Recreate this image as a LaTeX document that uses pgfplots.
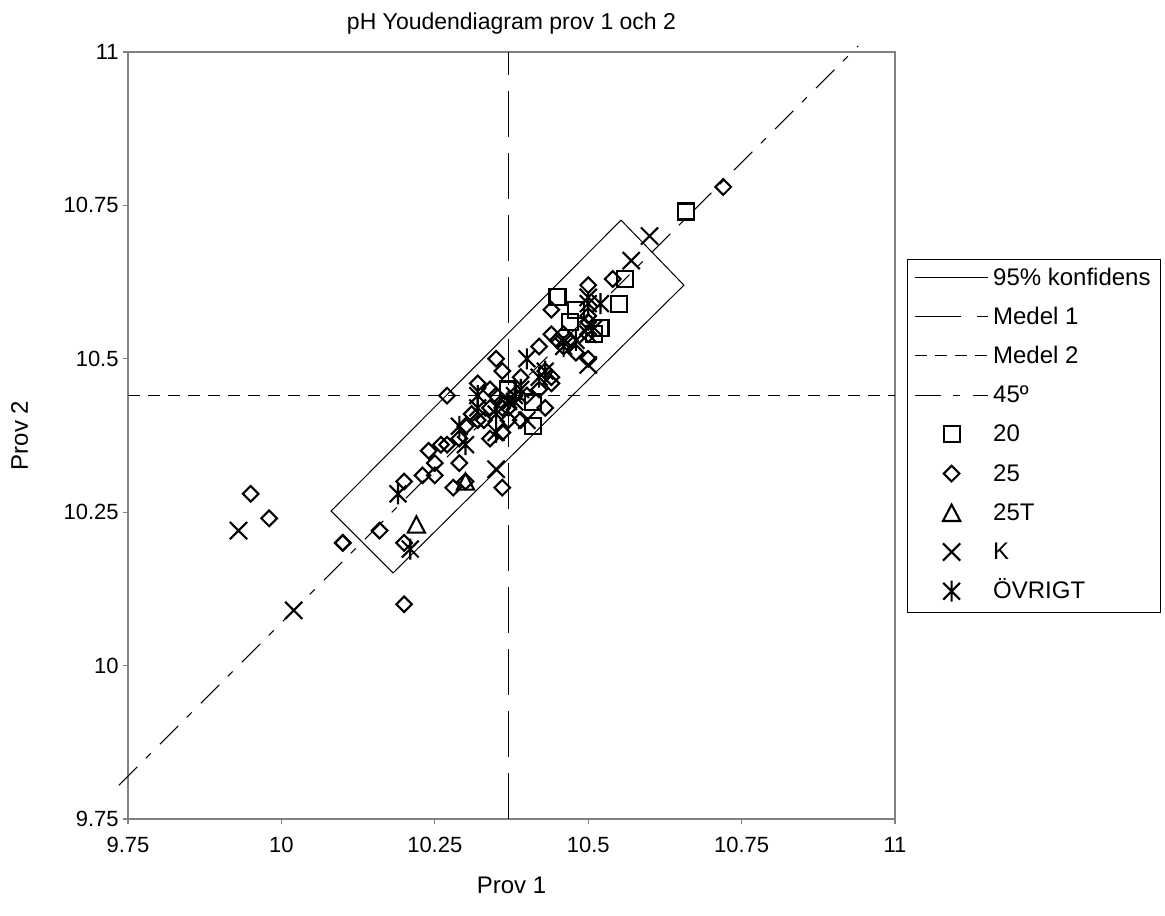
\documentclass[border=0pt]{standalone}
\usepackage{pgfplots}
\pgfplotsset{compat=1.18}
\usepackage{fontspec}
\setmainfont{Liberation Sans}

\pgfdeclareplotmark{esq}{%
  \pgfpathrectangle{\pgfqpoint{-\pgfplotmarksize}{-\pgfplotmarksize}}{\pgfqpoint{2\pgfplotmarksize}{2\pgfplotmarksize}}%
  \pgfusepathqstroke}
\pgfdeclareplotmark{edia}{%
  \pgfpathmoveto{\pgfqpoint{0pt}{\pgfplotmarksize}}%
  \pgfpathlineto{\pgfqpoint{\pgfplotmarksize}{0pt}}%
  \pgfpathlineto{\pgfqpoint{0pt}{-\pgfplotmarksize}}%
  \pgfpathlineto{\pgfqpoint{-\pgfplotmarksize}{0pt}}%
  \pgfpathclose\pgfusepathqstroke}
\pgfdeclareplotmark{etri}{%
  \pgfpathmoveto{\pgfqpoint{0pt}{0.95\pgfplotmarksize}}%
  \pgfpathlineto{\pgfqpoint{\pgfplotmarksize}{-0.95\pgfplotmarksize}}%
  \pgfpathlineto{\pgfqpoint{-\pgfplotmarksize}{-0.95\pgfplotmarksize}}%
  \pgfpathclose\pgfusepathqstroke}
\pgfdeclareplotmark{ex}{%
  \pgfpathmoveto{\pgfqpoint{-\pgfplotmarksize}{-\pgfplotmarksize}}%
  \pgfpathlineto{\pgfqpoint{\pgfplotmarksize}{\pgfplotmarksize}}%
  \pgfpathmoveto{\pgfqpoint{-\pgfplotmarksize}{\pgfplotmarksize}}%
  \pgfpathlineto{\pgfqpoint{\pgfplotmarksize}{-\pgfplotmarksize}}%
  \pgfusepathqstroke}
\pgfdeclareplotmark{estar}{%
  \pgfpathmoveto{\pgfqpoint{-\pgfplotmarksize}{-\pgfplotmarksize}}%
  \pgfpathlineto{\pgfqpoint{\pgfplotmarksize}{\pgfplotmarksize}}%
  \pgfpathmoveto{\pgfqpoint{-\pgfplotmarksize}{\pgfplotmarksize}}%
  \pgfpathlineto{\pgfqpoint{\pgfplotmarksize}{-\pgfplotmarksize}}%
  \pgfpathmoveto{\pgfqpoint{0pt}{-1.25\pgfplotmarksize}}%
  \pgfpathlineto{\pgfqpoint{0pt}{1.25\pgfplotmarksize}}%
  \pgfusepathqstroke}

\pgfplotsset{
  lineleg/.style={legend image code/.code={\path (0pt,0.8pt); \draw[##1] (0.25pt,0.8pt) -- (36.75pt,0.8pt);}},
  markleg/.style={legend image code/.code={\path (0pt,0.8pt) (37pt,0.8pt); \draw[mark repeat=2,mark phase=2,##1] plot coordinates {(0.25pt,0.8pt) (18.5pt,0.8pt) (36.75pt,0.8pt)};}},
}

\begin{document}
\fontsize{11pt}{13pt}\selectfont
\begin{tikzpicture}[font=\fontsize{11pt}{13pt}\selectfont]
\useasboundingbox (-64pt,-48pt) rectangle (518.5pt,409.5pt);
\begin{axis}[
  at={(0pt,0pt)}, anchor=south west,
  scale only axis, width=383.5pt, height=383.5pt,
  xmin=9.75, xmax=11, ymin=9.75, ymax=11,
  xtick={9.75,10,10.25,10.5,10.75,11},
  ytick={9.75,10,10.25,10.5,10.75,11},
  xticklabels={9.75,10,10.25,10.5,10.75,11},
  yticklabels={9.75,10,10.25,10.5,10.75,11},
  tick pos=left, tick align=outside, major tick length=2.5pt,
  axis line style={draw=black!50, line width=0.6pt},
  every tick/.style={draw=black!50, line width=0.6pt},
  xticklabel style={anchor=base, inner sep=0pt, yshift=-14pt},
  yticklabel style={anchor=east, inner sep=0pt, xshift=-2pt},
  title={pH Youdendiagram prov 1 och 2},
  title style={at={(axis description cs:0.5,1)}, anchor=base, inner sep=0pt, yshift=5pt,
    font=\fontsize{11.5pt}{13pt}\selectfont},
  xlabel={Prov 1},
  xlabel style={at={(axis description cs:0.5,0)}, anchor=base, inner sep=0pt, yshift=-37pt,
    font=\fontsize{12pt}{14pt}\selectfont},
  ylabel={Prov 2},
  ylabel style={at={(axis description cs:-0.1304,0.5)}, anchor=base, inner sep=0pt, rotate=0,
    font=\fontsize{12pt}{14pt}\selectfont},
  clip=false,
  legend cell align=left,
  legend style={at={(1.0157,0.730)}, anchor=north west, draw=black, line width=0.5pt,
    inner xsep=3pt, inner ysep=0pt, row sep=0pt,
    font=\fontsize{12pt}{14pt}\selectfont,
    nodes={inner xsep=1.75pt, inner ysep=4.3pt, text height=8.5pt, text depth=2.5pt}},
]
% 95% konfidens rectangle
\addplot[black, line width=0.5pt, lineleg] coordinates {(10.5535,10.726) (10.656,10.620) (10.182,10.151) (10.081,10.252) (10.5535,10.726)};
\addlegendentry{95\% konfidens}
% Medel 1
\addplot[black, line width=0.5pt, dash pattern=on 23pt off 8pt, lineleg] coordinates {(10.37,9.75) (10.37,11)};
\addlegendentry{Medel 1}
% Medel 2
\addplot[black, line width=0.5pt, dash pattern=on 6pt off 4pt, lineleg] coordinates {(9.75,10.44) (11,10.44)};
\addlegendentry{Medel 2}
% 45 degree line
\addplot[black, line width=0.5pt, dash pattern=on 13pt off 6pt on 3.5pt off 6.5pt, lineleg] coordinates {(9.735,9.805) (10.94,11.01)};
\addlegendentry{45º}
% 20
\addplot[only marks, mark=esq, mark size=4pt, black, line width=1.05pt, markleg] coordinates {
(10.66,10.74) (10.56,10.63) (10.55,10.59) (10.45,10.60) (10.48,10.58) (10.47,10.56)
(10.52,10.55) (10.51,10.54) (10.37,10.45) (10.41,10.43) (10.41,10.39)};
\addlegendentry{20}
% 25
\addplot[only marks, mark=edia, mark size=3.9pt, black, line width=1.05pt, markleg] coordinates {
(10.72,10.78) (10.54,10.63) (10.50,10.62) (10.44,10.58) (10.50,10.57) (10.50,10.56)
(10.46,10.54) (10.44,10.54) (10.50,10.54) (10.45,10.53) (10.42,10.52) (10.48,10.51)
(10.50,10.50) (10.43,10.48) (10.44,10.46) (10.44,10.47) (10.39,10.47) (10.35,10.50)
(10.36,10.48) (10.43,10.42) (10.39,10.40) (10.36,10.38) (10.36,10.42) (10.35,10.44)
(10.36,10.43) (10.37,10.42) (10.38,10.44) (10.37,10.40) (10.34,10.42) (10.33,10.40)
(10.34,10.45) (10.32,10.46) (10.27,10.44) (10.30,10.39) (10.32,10.40) (10.29,10.37)
(10.34,10.37) (10.26,10.36) (10.27,10.36) (10.24,10.35) (10.25,10.33) (10.25,10.31)
(10.23,10.31) (10.29,10.33) (10.28,10.29) (10.30,10.30) (10.36,10.29) (10.20,10.30)
(10.16,10.22) (10.20,10.20) (10.10,10.20) (10.10,10.20) (10.20,10.10) (9.95,10.28)
(9.98,10.24) (10.31,10.41) (10.40,10.44) (10.42,10.45) (10.46,10.52) (10.47,10.53)};
\addlegendentry{25}
% 25T
\addplot[only marks, mark=etri, mark size=4.3pt, black, line width=1.05pt, markleg] coordinates {
(10.22,10.23) (10.30,10.30)};
\addlegendentry{25T}
% K
\addplot[only marks, mark=ex, mark size=4.3pt, black, line width=1.05pt, markleg] coordinates {
(10.60,10.70) (10.57,10.66) (10.50,10.60) (10.51,10.55) (10.50,10.54) (10.50,10.49)
(10.40,10.40) (10.35,10.32) (10.02,10.09) (9.93,10.22) (10.38,10.43)};
\addlegendentry{K}
% ÖVRIGT
\addplot[only marks, mark=estar, mark size=4.2pt, black, line width=1.05pt, markleg] coordinates {
(10.52,10.59) (10.50,10.59) (10.48,10.53) (10.46,10.52) (10.40,10.50) (10.43,10.48)
(10.37,10.43) (10.38,10.44) (10.35,10.41) (10.39,10.45) (10.32,10.44) (10.29,10.39)
(10.30,10.36) (10.35,10.38) (10.32,10.42) (10.19,10.28) (10.21,10.19) (10.42,10.47)};
\addlegendentry{ÖVRIGT}
\end{axis}
\end{tikzpicture}
\end{document}
